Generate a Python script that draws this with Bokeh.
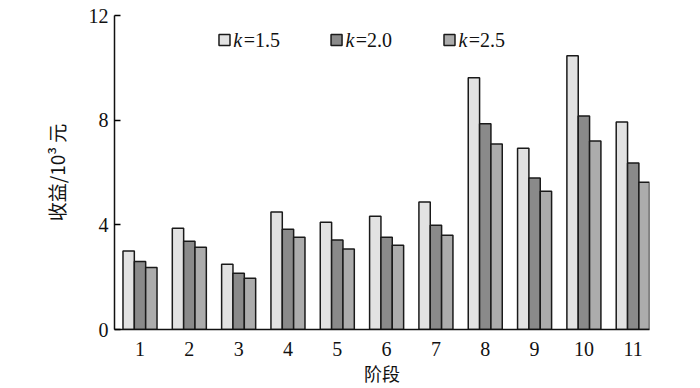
from bokeh.plotting import figure
from bokeh.models import Range1d, FixedTicker, Label
from bokeh.embed import file_html
from bokeh.resources import INLINE

stages = [1, 2, 3, 4, 5, 6, 7, 8, 9, 10, 11]
k15 = [3.0, 3.87, 2.49, 4.49, 4.10, 4.33, 4.87, 9.62, 6.93, 10.46, 7.93]
k20 = [2.60, 3.37, 2.15, 3.83, 3.42, 3.53, 3.98, 7.86, 5.79, 8.16, 6.36]
k25 = [2.37, 3.14, 1.96, 3.53, 3.08, 3.22, 3.60, 7.09, 5.28, 7.20, 5.63]
series_names = ["=1.5", "=2.0", "=2.5"]
y_ticks = [0, 4, 8, 12]

SERIF = "Liberation Serif"
CJK = "Noto Sans CJK SC"
colors = ["#e2e2e2", "#8a8a8a", "#acacac"]

p = figure(width=700, height=388, output_backend="svg", toolbar_location=None,
           x_range=Range1d(0.483, 11.33), y_range=Range1d(0, 12),
           min_border_left=114, min_border_right=51, min_border_top=15, min_border_bottom=58)
p.outline_line_color = None
p.grid.visible = False
p.background_fill_color = "white"

bw = 0.23
offsets = [-bw, 0.0, bw]
for vals, off, col in zip([k15, k20, k25], offsets, colors):
    p.vbar(x=[s + off for s in stages], top=vals, width=bw, bottom=0,
           fill_color=col, line_color="#1a1a1a", line_width=1.5)

# axes
p.yaxis.ticker = FixedTicker(ticks=y_ticks)
p.yaxis.major_tick_in = 6
p.yaxis.major_tick_out = 0
p.yaxis.minor_tick_line_color = None
p.yaxis.axis_line_color = "#111111"
p.yaxis.axis_line_width = 1.5
p.yaxis.major_tick_line_width = 1.5
p.yaxis.major_label_text_font = SERIF
p.yaxis.major_label_text_font_size = "20px"
p.yaxis.major_label_text_color = "#111111"
p.yaxis.major_label_standoff = 6
p.yaxis.axis_label = "收益/10³ 元"
p.yaxis.axis_label_text_font = CJK
p.yaxis.axis_label_text_font_style = "normal"
p.yaxis.axis_label_text_font_size = "19px"
p.yaxis.axis_label_text_color = "#111111"
p.yaxis.axis_label_standoff = 16

p.xaxis.ticker = FixedTicker(ticks=stages)
p.xaxis.major_tick_line_color = None
p.xaxis.minor_tick_line_color = None
p.xaxis.axis_line_color = "#111111"
p.xaxis.axis_line_width = 1.5
p.xaxis.major_label_text_font = SERIF
p.xaxis.major_label_text_font_size = "20px"
p.xaxis.major_label_text_color = "#111111"
p.xaxis.major_label_standoff = 6
p.xaxis.axis_label = "阶段"
p.xaxis.axis_label_text_font = CJK
p.xaxis.axis_label_text_font_style = "normal"
p.xaxis.axis_label_text_font_size = "18px"
p.xaxis.axis_label_text_color = "#111111"
p.xaxis.axis_label_standoff = 1

# legend (manual)
leg_sq_x = [2.713, 4.985, 7.275]
leg_y = 11.06
p.scatter(x=leg_sq_x, y=[leg_y] * 3, marker="square", size=11,
          fill_color=colors, line_color="#1a1a1a", line_width=1.5)
for sx, name in zip(leg_sq_x, series_names):
    p.add_layout(Label(x=sx + 0.18, y=leg_y, text="k", text_font=SERIF,
                       text_font_style="italic", text_font_size="20px",
                       text_baseline="middle", text_color="#111111"))
    p.add_layout(Label(x=sx + 0.18 + 0.21, y=leg_y, text=name, text_font=SERIF,
                       text_font_size="20px", text_baseline="middle", text_color="#111111"))

open("out.html", "w").write(file_html(p, INLINE))
